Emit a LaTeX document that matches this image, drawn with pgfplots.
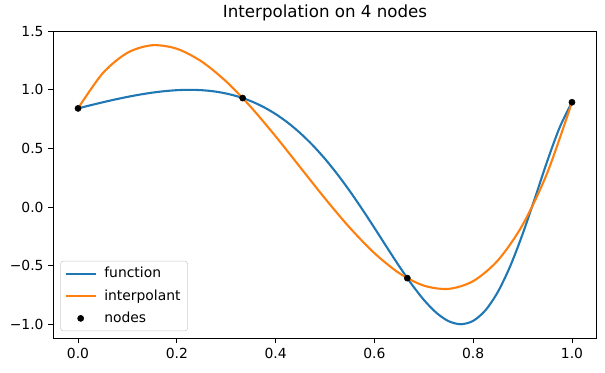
\documentclass[border=0pt]{standalone}
\usepackage{pgfplots}
\pgfplotsset{compat=1.18}
\usepackage{fontspec}
\setmainfont{DejaVu Sans}
\definecolor{mblue}{HTML}{1F77B4}
\definecolor{morange}{HTML}{FF7F0E}
\begin{document}
\begin{tikzpicture}
\begin{axis}[name=ax,
  scale only axis, width=391.2pt, height=221pt,
  xmin=-0.05, xmax=1.05, ymin=-1.119, ymax=1.5,
  axis line style={line width=0.6pt},
  tick style={line width=0.6pt, black},
  tick align=outside, major tick length=3.5pt,
  xtick={0,0.2,0.4,0.6,0.8,1.0},
  xticklabels={0.0,0.2,0.4,0.6,0.8,1.0},
  ytick={-1,-0.5,0,0.5,1,1.5},
  yticklabels={−1.0,−0.5,0.0,0.5,1.0,1.5},
  xtick pos=bottom, ytick pos=left,
  ticklabel style={font=\fontsize{10}{12}\selectfont},
  xticklabel style={yshift=-0.5pt},
  title={Interpolation on 4 nodes},
  title style={font=\fontsize{12}{14}\selectfont, yshift=-2pt},
  legend style={at={(0,0)}, anchor=south west, xshift=5pt, yshift=5pt,
    draw=black!20, rounded corners=2pt, font=\fontsize{10}{12}\selectfont,
    inner xsep=3pt, inner ysep=2.5pt, row sep=3pt},
  legend cell align=left,
  legend image code/.code={\draw[#1] (0pt,0pt) -- (21.5pt,0pt); \path (25pt,0pt);},
]
\addplot[mblue, line width=1.5pt, smooth] coordinates {
(0.000,0.8415)(0.025,0.8681)(0.050,0.8935)(0.075,0.9175)(0.100,0.9396)
(0.125,0.9592)(0.150,0.9757)(0.175,0.9885)(0.200,0.9969)(0.225,1.0000)
(0.250,0.9970)(0.275,0.9868)(0.300,0.9686)(0.325,0.9412)(0.350,0.9035)
(0.375,0.8545)(0.400,0.7932)(0.425,0.7187)(0.450,0.6303)(0.475,0.5277)
(0.500,0.4108)(0.525,0.2801)(0.550,0.1370)(0.575,-0.0166)(0.600,-0.1776)
(0.625,-0.3417)(0.650,-0.5036)(0.675,-0.6562)(0.700,-0.7917)(0.725,-0.9008)
(0.750,-0.9735)(0.775,-1.0000)(0.800,-0.9712)(0.825,-0.8802)(0.850,-0.7238)
(0.875,-0.5043)(0.900,-0.2314)(0.925,0.0766)(0.950,0.3919)(0.975,0.6783)
(1.000,0.8939)};
\addlegendentry{function}
\addplot[morange, line width=1.5pt, smooth] coordinates {
(0.00,0.8415)(0.05,1.1416)(0.10,1.3160)(0.15,1.3804)(0.20,1.3505)
(0.25,1.2422)(0.30,1.0710)(0.35,0.8528)(0.40,0.6033)(0.45,0.3382)
(0.50,0.0732)(0.55,-0.1759)(0.60,-0.3933)(0.65,-0.5634)(0.70,-0.6704)
(0.75,-0.6985)(0.80,-0.6321)(0.85,-0.4554)(0.90,-0.1527)(0.95,0.2917)
(1.00,0.8939)};
\addlegendentry{interpolant}
\addplot[only marks, mark=*, mark size=2.2pt, black, legend image code/.code={\fill[black] (10.75pt,0pt) circle (2.2pt); \path (0pt,0pt) (25pt,0pt);}] coordinates {
(0,0.8415)(0.3333,0.9298)(0.6667,-0.6068)(1,0.8939)};
\addlegendentry{nodes}
\end{axis}
\path[use as bounding box] ([xshift=-38.4pt,yshift=-24.5pt]ax.south west) rectangle ([xshift=6pt,yshift=22.3pt]ax.north east);
\end{tikzpicture}
\end{document}
